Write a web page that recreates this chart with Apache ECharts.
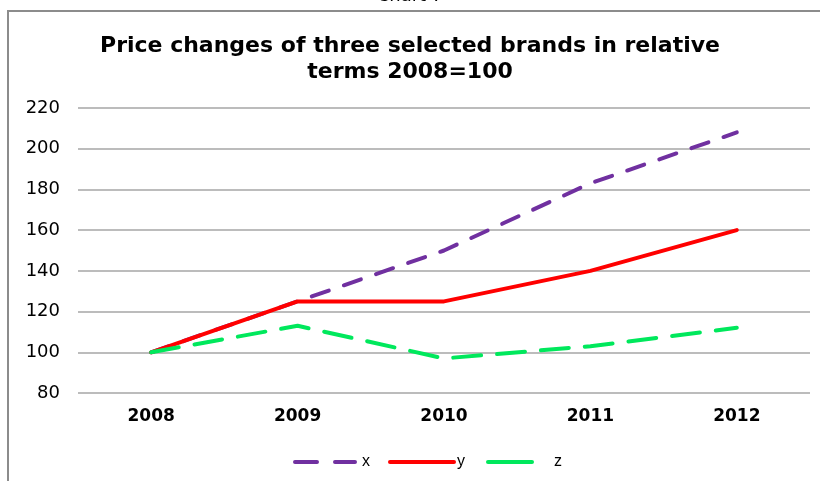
<!DOCTYPE html>
<html>
<head>
<meta charset="utf-8">
<script src="https://cdn.jsdelivr.net/npm/echarts@6/dist/echarts.min.js"></script>
<style>
  html, body { margin: 0; padding: 0; background: #fff; }
  #chart { width: 820px; height: 481px; }
</style>
</head>
<body>
<div id="chart"></div>
<script>
// Relative price index per brand, 2008 = 100
const years = ['2008', '2009', '2010', '2011', '2012'];
const brandX = [100, 125, 150, 183, 208];
const brandY = [100, 125, 125, 140, 160];
const brandZ = [100, 113, 97, 103, 112];
const yTicks = { min: 80, max: 220, step: 20 };

const chart = echarts.init(document.getElementById('chart'));

const lineSeries = (name, data, color, dash) => ({
  name: name,
  type: 'line',
  data: data,
  symbol: 'none',
  smooth: false,
  lineStyle: { color: color, width: 4, type: dash, cap: 'round' },
  itemStyle: { color: color }
});

// One legend per series so each key can have its own length and spacing
const legendItem = (name, left, width, textPad, dash) => ({
  data: [name],
  top: 454,
  left: left,
  padding: 0,
  itemWidth: width,
  itemHeight: 10,
  itemStyle: { opacity: 0 },
  lineStyle: { width: 4, type: dash },
  textStyle: {
    fontFamily: '"Liberation Sans", Arial, sans-serif',
    fontSize: 16,
    color: '#000',
    padding: [0, 0, 0, textPad]
  },
  selectedMode: false
});

chart.setOption({
  animation: false,
  backgroundColor: '#fff',
  graphic: [
    {
      type: 'rect',
      shape: { x: 8, y: 11, width: 840, height: 500 },
      style: { fill: 'none', stroke: '#8c8c8c', lineWidth: 2 },
      z: -1
    },
    {
      type: 'text',
      left: 'center',
      top: -13,
      style: { text: 'Chart 7', font: '18px "DejaVu Sans", Verdana, sans-serif', fill: '#000' }
    }
  ],
  title: {
    text: 'Price changes of three selected brands in relative\nterms 2008=100',
    left: 'center',
    top: 28,
    textStyle: {
      fontFamily: '"DejaVu Sans", Verdana, sans-serif',
      fontWeight: 'bold',
      fontSize: 22,
      lineHeight: 26,
      color: '#000'
    }
  },
  legend: [
    legendItem('x', 293, 60, 2, [22, 18]),
    legendItem('y', 388, 64, -2, 'solid'),
    legendItem('z', 486, 44, 17, 'solid')
  ],
  grid: { left: 78, right: 10, top: 108, bottom: 88, containLabel: false },
  xAxis: {
    type: 'category',
    data: years,
    boundaryGap: true,
    axisLine: { show: false },
    axisTick: { show: false },
    axisLabel: {
      margin: 15,
      fontFamily: '"DejaVu Sans", Verdana, sans-serif',
      fontWeight: 'bold',
      fontSize: 17,
      color: '#000'
    }
  },
  yAxis: {
    type: 'value',
    min: yTicks.min,
    max: yTicks.max,
    interval: yTicks.step,
    axisLine: { show: false },
    axisTick: { show: false },
    splitLine: { lineStyle: { color: '#a6a6a6', width: 1.5 } },
    axisLabel: {
      margin: 18,
      fontFamily: '"DejaVu Sans", Verdana, sans-serif',
      fontSize: 18,
      color: '#000'
    }
  },
  series: [
    lineSeries('x', brandX, '#7030a0', [18, 16]),
    lineSeries('y', brandY, '#ff0000', 'solid'),
    lineSeries('z', brandZ, '#00e85c', [28, 16])
  ]
});
</script>
</body>
</html>
